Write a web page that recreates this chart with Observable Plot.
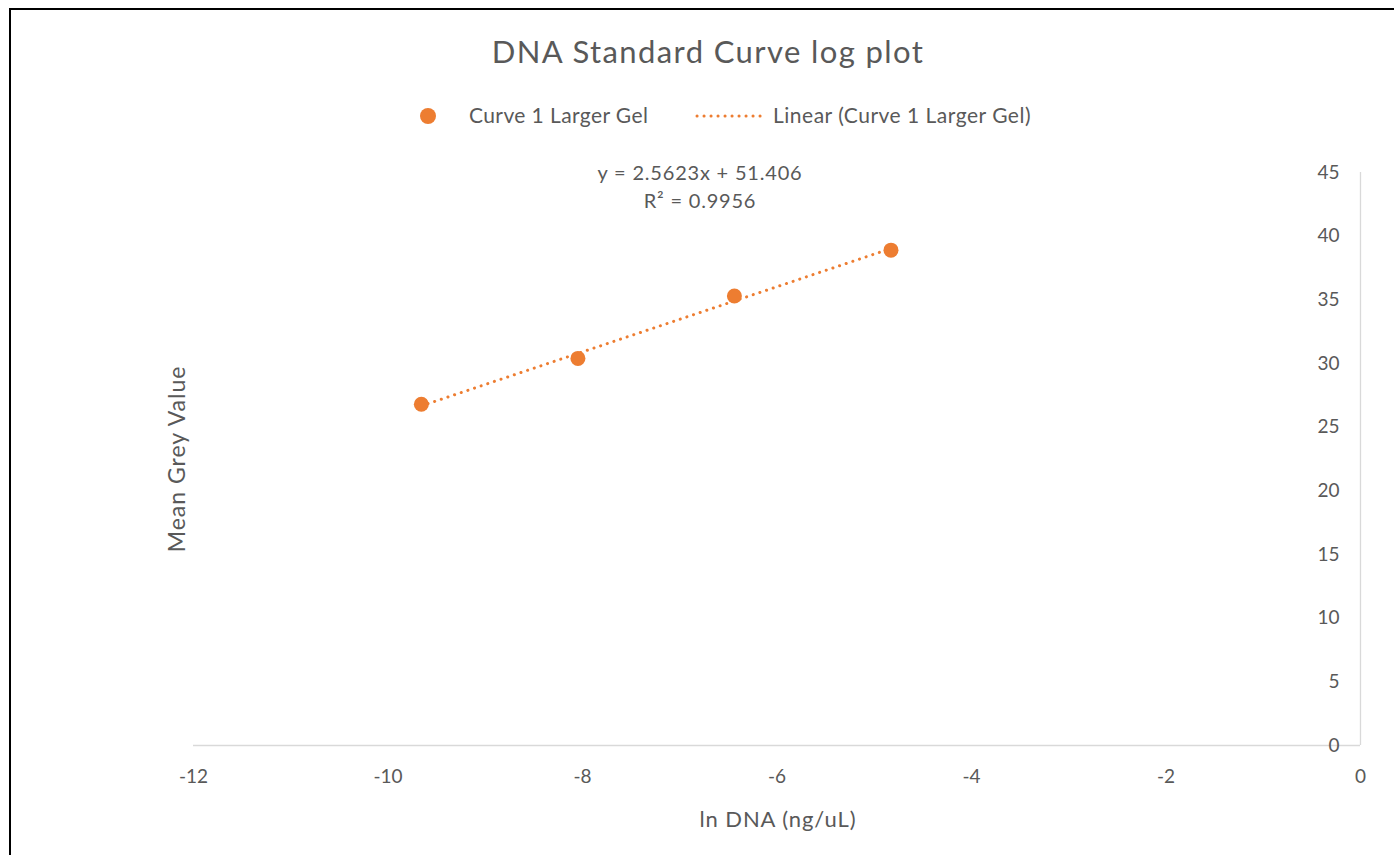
<!DOCTYPE html>
<html>
<head>
<meta charset="utf-8">
<script src="https://cdn.jsdelivr.net/npm/d3@7"></script>
<script src="https://cdn.jsdelivr.net/npm/@observablehq/plot@0.6"></script>
<style>
  html, body { margin: 0; padding: 0; background: #fff; }
  #page { position: relative; width: 1394px; height: 855px; overflow: hidden; font-family: Lato, "Open Sans", sans-serif; color: #595959; }
  #frame { position: absolute; left: 9px; top: 8px; width: 1400px; height: 900px; border-left: 2px solid #000; border-top: 2px solid #000; box-sizing: border-box; }
  #title { position: absolute; left: 0; width: 1416px; top: 32px; text-align: center; font-size: 31px; letter-spacing: 1.4px; }
  .abs { position: absolute; white-space: nowrap; }
  #plot { position: absolute; left: 0; top: 0; }
</style>
</head>
<body>
<div id="page">
  <div id="plot"></div>
  <div id="frame"></div>
  <div id="title"></div>
  <div id="legend"></div>
  <div id="eq"></div>
  <div id="ylab"></div>
  <div id="xlab"></div>
</div>
<script>
// Data (ln DNA in ng/uL vs mean grey value)
const lnDNA = [-9.657, -8.047, -6.438, -4.828];
const meanGrey = [26.8, 30.4, 35.3, 38.9];
const xTicks = [-12, -10, -8, -6, -4, -2, 0];
const yTicks = [0, 5, 10, 15, 20, 25, 30, 35, 40, 45];
const titleText = "DNA Standard Curve log plot";
const seriesName = "Curve 1 Larger Gel";
const trendName = "Linear (Curve 1 Larger Gel)";
const equationText = "y = 2.5623x + 51.406";
const r2Text = "R² = 0.9956";
const xLabel = "ln DNA (ng/uL)";
const yLabel = "Mean Grey Value";

const orange = "#ED7D31";
const data = lnDNA.map((x, i) => ({x, y: meanGrey[i]}));

const chart = Plot.plot({
  width: 1394,
  height: 855,
  marginLeft: 193,
  marginRight: 34,
  marginTop: 172,
  marginBottom: 110,
  style: {fontFamily: "Lato, 'Open Sans', sans-serif", fontSize: "19px", color: "#595959", background: "transparent"},
  x: {domain: [-12, 0]},
  y: {domain: [0, 45]},
  marks: [
    Plot.ruleY([0], {stroke: "#d9d9d9", strokeWidth: 1.3}),
    Plot.ruleX([0], {stroke: "#d9d9d9", strokeWidth: 1.3}),
    Plot.axisX({ticks: xTicks, tickSize: 0, tickPadding: 24, tickFormat: d => String(d).replace("−", "-"), label: null, fill: "#595959"}),
    Plot.axisY({anchor: "right", ticks: yTicks, tickSize: 0, tickPadding: 0, dx: -21, textAnchor: "end", label: null, fill: "#595959"}),
    Plot.linearRegressionY(data, {x: "x", y: "y", ci: 0, stroke: orange, strokeWidth: 3, strokeDasharray: "0.1,6.9", strokeLinecap: "round"}),
    Plot.dot(data, {x: "x", y: "y", r: 7.5, fill: orange, stroke: "none"})
  ]
});
document.getElementById("plot").appendChild(chart);

document.getElementById("title").textContent = titleText;

const legend = document.getElementById("legend");
legend.innerHTML = `
  <div class="abs" style="left:420px;top:108px;width:16px;height:16px;border-radius:50%;background:${orange}"></div>
  <div class="abs" style="left:469px;top:102px;font-size:21px;letter-spacing:0.4px;">${seriesName}</div>
  <svg class="abs" style="left:695px;top:110px" width="74" height="12"><line x1="2" y1="6" x2="72" y2="6" stroke="${orange}" stroke-width="3" stroke-linecap="round" stroke-dasharray="0.1,6.9"/></svg>
  <div class="abs" style="left:773px;top:102px;font-size:21px;letter-spacing:0.5px;">${trendName}</div>`;

const eq = document.getElementById("eq");
eq.innerHTML = `
  <div class="abs" style="left:500px;width:400px;top:160px;text-align:center;font-size:20px;letter-spacing:0.8px;">${equationText}</div>
  <div class="abs" style="left:500px;width:400px;top:188px;text-align:center;font-size:20px;letter-spacing:0.8px;">${r2Text}</div>`;

document.getElementById("ylab").innerHTML = `<div class="abs" style="left:176px;top:459px;font-size:23px;letter-spacing:1px;transform:translate(-50%,-50%) rotate(-90deg);">${yLabel}</div>`;
document.getElementById("xlab").innerHTML = `<div class="abs" style="left:778px;top:818px;font-size:22px;letter-spacing:0.9px;transform:translate(-50%,-50%);">${xLabel}</div>`;
</script>
</body>
</html>
